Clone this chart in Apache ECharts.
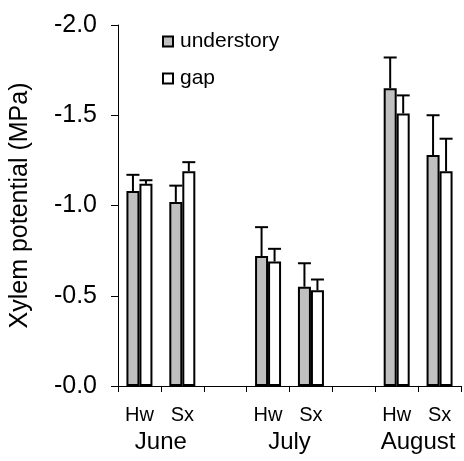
<!DOCTYPE html>
<html>
<head>
<meta charset="utf-8">
<script src="https://cdn.jsdelivr.net/npm/echarts@6/dist/echarts.min.js"></script>
<style>
  html, body { margin: 0; padding: 0; background: #fff; }
  #chart { width: 464px; height: 461px; }
</style>
</head>
<body>
<div id="chart"></div>
<script>
// Species within each month; empty slots separate the months
const categories = ['Hw', 'Sx', '', 'Hw', 'Sx', '', 'Hw', 'Sx'];
// Month names placed at the middle of each Hw/Sx pair (value-axis positions)
const monthPositions = [1, 4, 7];
const monthNames = ['June', 'July', 'August'];

// Mean xylem potential (MPa)
const understory = [-1.08, -1.02, null, -0.72, -0.55, null, -1.65, -1.28];
const gap        = [-1.12, -1.19, null, -0.69, -0.53, null, -1.51, -1.19];
// Standard errors (MPa)
const understorySE = [0.09, 0.09, null, 0.16, 0.13, null, 0.17, 0.22];
const gapSE        = [0.02, 0.05, null, 0.07, 0.06, null, 0.10, 0.18];

const yTicks = { min: -2, max: 0, interval: 0.5 };

const FONT = 'Liberation Sans, Arial, sans-serif';
const BAR_W = 13;

function errorSeries(name, means, ses, side) {
  return {
    type: 'custom',
    name: name + ' SE',
    z: 3,
    silent: true,
    data: means.map((m, i) => (m == null ? null : [i, m, m - ses[i]])),
    renderItem: function (params, api) {
      const idx = api.value(0);
      const base = api.coord([idx, api.value(1)]);
      const tip = api.coord([idx, api.value(2)]);
      const x = base[0] + side * BAR_W / 2;
      const half = BAR_W / 2;
      const style = { stroke: '#000', lineWidth: 2 };
      return {
        type: 'group',
        children: [
          { type: 'line', shape: { x1: x, y1: base[1], x2: x, y2: tip[1] }, style: style },
          { type: 'line', shape: { x1: x - half, y1: tip[1], x2: x + half, y2: tip[1] }, style: style }
        ]
      };
    }
  };
}

const chart = echarts.init(document.getElementById('chart'), null, { renderer: 'canvas' });
chart.setOption({
  animation: false,
  backgroundColor: '#fff',
  textStyle: { fontFamily: FONT, color: '#000' },
  grid: { left: 117, right: 3, top: 25, bottom: 75 },
  legend: {
    orient: 'vertical',
    left: 157,
    top: 26,
    itemWidth: 10,
    itemHeight: 10,
    itemGap: 16,
    icon: 'rect',
    data: ['understory', 'gap'],
    textStyle: { fontFamily: FONT, fontSize: 21, color: '#000', padding: [0, 0, 0, 2] }
  },
  xAxis: [
    {
      type: 'category',
      data: categories,
      axisLine: { lineStyle: { color: '#000', width: 1 } },
      axisTick: { show: true, length: 6, lineStyle: { color: '#000' } },
      axisLabel: { fontFamily: FONT, fontSize: 20, color: '#000', margin: 19, interval: 0 }
    },
    {
      type: 'value',
      position: 'bottom',
      min: 0,
      max: categories.length,
      interval: 1,
      axisLine: { show: false },
      axisTick: { show: false },
      splitLine: { show: false },
      axisLabel: {
        fontFamily: FONT, fontSize: 24, color: '#000', margin: 44,
        showMinLabel: false, showMaxLabel: false,
        formatter: function (v) {
          const k = monthPositions.indexOf(v);
          return k >= 0 ? monthNames[k] : '';
        }
      }
    }
  ],
  yAxis: {
    type: 'value',
    inverse: true,
    min: yTicks.min,
    max: yTicks.max,
    interval: yTicks.interval,
    name: 'Xylem potential (MPa)',
    nameLocation: 'middle',
    nameRotate: 90,
    nameGap: 85,
    nameTextStyle: { fontFamily: FONT, fontSize: 25, color: '#000' },
    axisLine: { show: true, lineStyle: { color: '#000', width: 1 } },
    axisTick: { show: true, length: 7, lineStyle: { color: '#000' } },
    splitLine: { show: false },
    axisLabel: {
      fontFamily: FONT, fontSize: 25, color: '#000', margin: 21,
      formatter: function (v) { return '-' + Math.abs(v).toFixed(1); }
    }
  },
  series: [
    {
      name: 'understory',
      type: 'bar',
      data: understory,
      barWidth: BAR_W,
      barGap: '0%',
      itemStyle: { color: '#c0c0c0', borderColor: '#000', borderWidth: 2 }
    },
    {
      name: 'gap',
      type: 'bar',
      data: gap,
      barWidth: BAR_W,
      barGap: '0%',
      itemStyle: { color: '#fff', borderColor: '#000', borderWidth: 2 }
    },
    errorSeries('understory', understory, understorySE, -1),
    errorSeries('gap', gap, gapSE, 1)
  ]
});
</script>
</body>
</html>
